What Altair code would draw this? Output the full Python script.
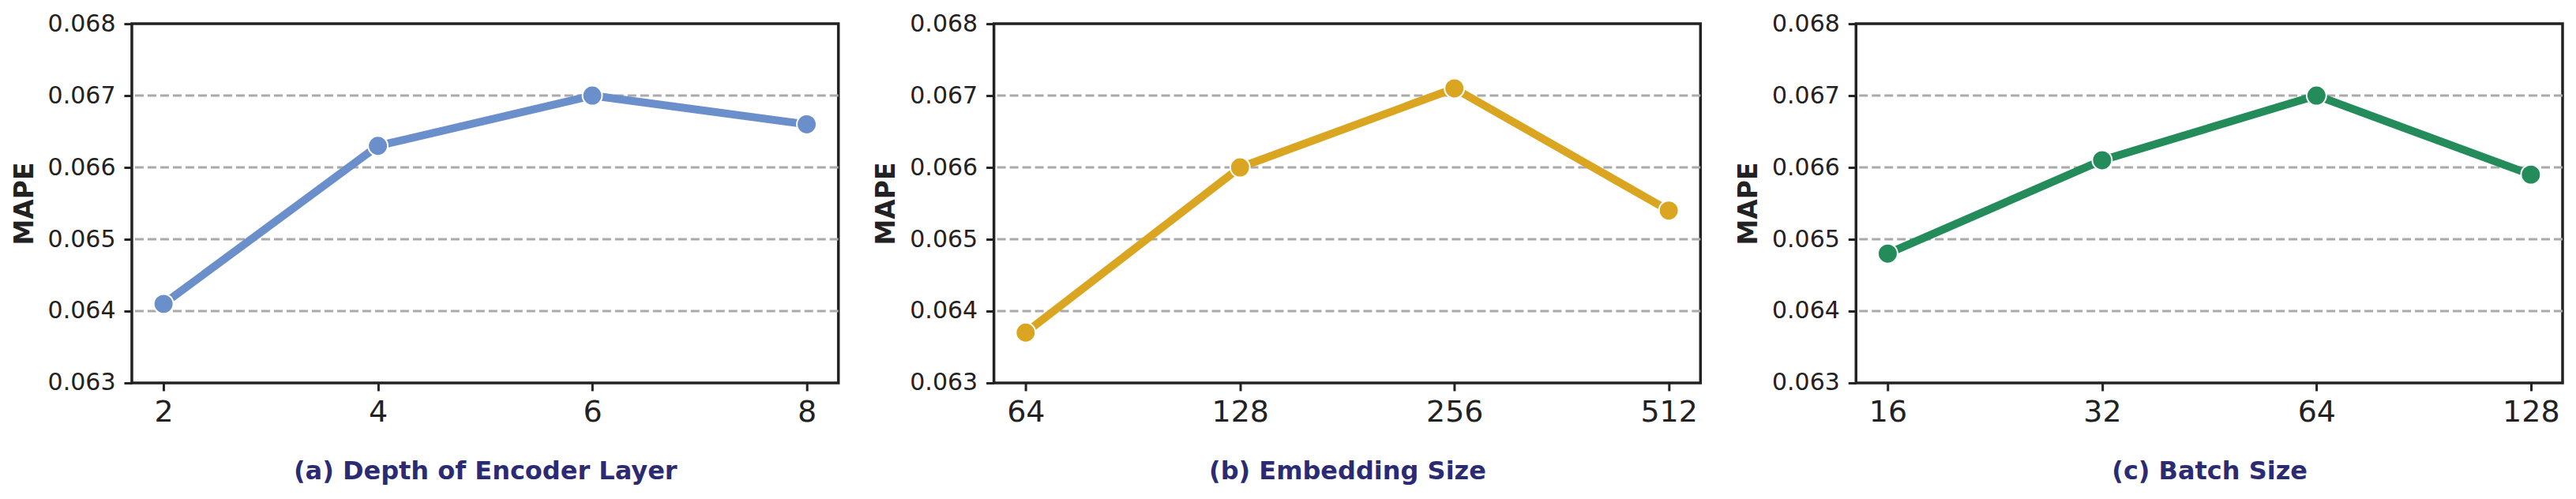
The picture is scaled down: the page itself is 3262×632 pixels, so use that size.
import altair as alt
import pandas as pd

depth_x = ["2", "4", "6", "8"]
depth_y = [0.0641, 0.0663, 0.0670, 0.0666]
emb_x = ["64", "128", "256", "512"]
emb_y = [0.0637, 0.0660, 0.0671, 0.0654]
batch_x = ["16", "32", "64", "128"]
batch_y = [0.0648, 0.0661, 0.0670, 0.0659]
titles = ["(a) Depth of Encoder Layer", "(b) Embedding Size", "(c) Batch Size"]
colors = ["#6b8fca", "#daa520", "#238c5a"]
y_ticks = [0.063, 0.064, 0.065, 0.066, 0.067, 0.068]
grid_vals = [0.064, 0.065, 0.066, 0.067]

FONT = "DejaVu Sans"


def panel(xs, ys, title, color):
    df = pd.DataFrame({"x": xs, "y": ys})
    gdf = pd.DataFrame({"y": grid_vals})
    yscale = alt.Scale(domain=[0.063, 0.068], nice=False, zero=False)
    yaxis = alt.Axis(
        values=y_ticks,
        format=".3f",
        title="MAPE",
        grid=False,
        domain=False,
        labelFont=FONT,
        labelFontSize=30,
        labelColor="#222222",
        labelPadding=11,
        tickColor="#222222",
        tickWidth=3,
        tickSize=10,
        titleFont=FONT,
        titleFontSize=33,
        titleFontWeight="bold",
        titleColor="#222222",
        titlePadding=12,
    )
    x = alt.X(
        "x:N",
        sort=xs,
        scale=alt.Scale(type="point", padding=0.148),
        axis=alt.Axis(
            title=title,
            labelAngle=0,
            grid=False,
            domain=False,
            labelFont=FONT,
            labelFontSize=38,
            labelColor="#222222",
            labelPadding=9,
            tickColor="#222222",
            tickWidth=3,
            tickSize=10,
            titleFont=FONT,
            titleFontSize=32,
            titleFontWeight="bold",
            titleColor="#2b2b73",
            titlePadding=40,
        ),
    )
    y = alt.Y("y:Q", scale=yscale, axis=yaxis)
    grid = alt.Chart(gdf).mark_rule(
        color="#aaaaaa", strokeWidth=3, strokeDash=[11, 5]
    ).encode(y=alt.Y("y:Q", scale=yscale, axis=yaxis))
    base = alt.Chart(df).encode(x=x, y=y)
    line = base.mark_line(color=color, strokeWidth=10)
    pts = base.mark_circle(color=color, size=620, opacity=1, stroke="white", strokeWidth=2)
    return alt.layer(grid, line, pts).properties(width=895, height=455)


chart = alt.hconcat(
    panel(depth_x, depth_y, titles[0], colors[0]),
    panel(emb_x, emb_y, titles[1], colors[1]),
    panel(batch_x, batch_y, titles[2], colors[2]),
    spacing=39,
).configure(
    background="white",
    view=alt.ViewConfig(stroke="#222222", strokeWidth=3.5),
)

chart.save("out.html", embed_options={"renderer": "svg", "actions": False})
